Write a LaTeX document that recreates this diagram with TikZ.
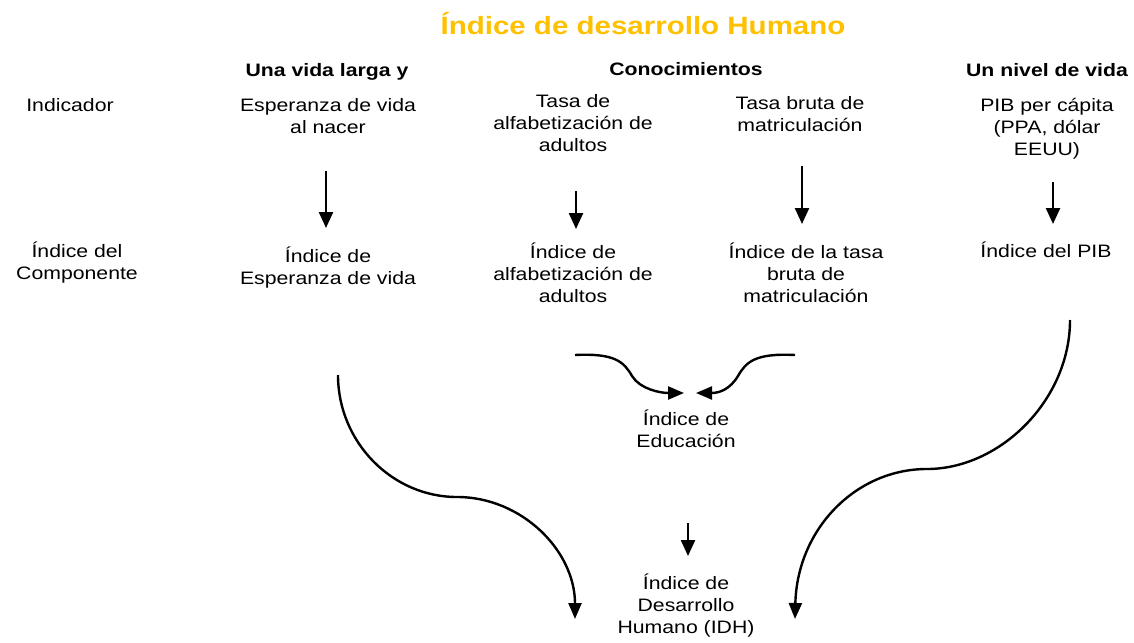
\documentclass[tikz,border=0pt]{standalone}
\usepackage{fontspec}
\setmainfont{Liberation Sans}[FakeStretch=1.18]
\usetikzlibrary{arrows.meta}
\definecolor{titleorange}{RGB}{255,192,0}
\begin{document}
\begin{tikzpicture}[x=1pt,y=-1pt,
  lbl/.style={anchor=base, align=center, inner sep=0pt, font=\fontsize{18}{22}\selectfont},
  hdr/.style={lbl, font=\fontsize{18}{22}\selectfont\bfseries},
  arr/.style={line width=2.4pt, -{Triangle[width=14pt,length=16pt]}},
  carr/.style={line width=2.4pt, -{Triangle[width=13pt,length=16pt]}},
]
\useasboundingbox (0,0) rectangle (1134,642);
% title
\node[anchor=base, inner sep=0pt, font=\fontsize{25}{30}\selectfont\bfseries, text=titleorange] (title) at (643,35) {Índice de desarrollo Humano};
% headers
\node[hdr] (h1) at (327,76) {Una vida larga y};
\node[hdr] (h2) at (686,75) {Conocimientos};
\node[hdr] (h3) at (1047,76) {Un nivel de vida};
% row labels (anchor base = baseline of last line)
\node[lbl] (rIndicador) at (70,111) {Indicador};
\node[lbl] (rComp) at (77,279) {Índice del\\Componente};
% indicators
\node[lbl] (i1) at (328,133) {Esperanza de vida\\al nacer};
\node[lbl] (i2) at (573,151) {Tasa de\\alfabetización de\\adultos};
\node[lbl] (i3) at (800,131) {Tasa bruta de\\matriculación};
\node[lbl] (i4) at (1047,155) {PIB per cápita\\(PPA, dólar\\EEUU)};
% component indices
\node[lbl] (c1) at (328,284) {Índice de\\Esperanza de vida};
\node[lbl] (c2) at (573,302) {Índice de\\alfabetización de\\adultos};
\node[lbl] (c3) at (806,302) {Índice de la tasa\\bruta de\\matriculación};
\node[lbl] (c4) at (1046,257) {Índice del PIB};
% education and HDI
\node[lbl] (edu) at (686,447) {Índice de\\Educación};
\node[lbl] (idh) at (686,633) {Índice de\\Desarrollo\\Humano (IDH)};
% arrow end points
\coordinate (a1s) at (326,171); \coordinate (a1e) at (326,228);
\coordinate (a2s) at (576,191); \coordinate (a2e) at (576,229);
\coordinate (a3s) at (802,166); \coordinate (a3e) at (802,224);
\coordinate (a4s) at (1053,182); \coordinate (a4e) at (1053,224);
\coordinate (a5s) at (688,523); \coordinate (a5e) at (688,556);
\draw[arr] (a1s) -- (a1e);
\draw[arr] (a2s) -- (a2e);
\draw[arr] (a3s) -- (a3e);
\draw[arr] (a4s) -- (a4e);
\draw[arr] (a5s) -- (a5e);
% education curves
\coordinate (e1s) at (575,355); \coordinate (e1e) at (684,393);
\coordinate (e2s) at (795,355); \coordinate (e2e) at (696,393);
\draw[carr] (e1s) .. controls (615,353) and (624,362) .. (632,376) .. controls (640,389) and (660,393) .. (e1e);
\draw[carr] (e2s) .. controls (755,353) and (746,362) .. (738,376) .. controls (730,389) and (720,393) .. (e2e);
% big curves
\coordinate (b1s) at (338,375); \coordinate (b1m) at (457,497); \coordinate (b1e) at (575,619);
\coordinate (b2s) at (1070,320); \coordinate (b2m) at (927,469); \coordinate (b2e) at (795,619);
\draw[carr] (b1s) .. controls (338,442) and (392,497) .. (b1m) .. controls (522,497) and (575,551) .. (b1e);
\draw[carr] (b2s) .. controls (1070,400) and (1000,469) .. (b2m) .. controls (855,469) and (797,530) .. (b2e);
\end{tikzpicture}
\end{document}
